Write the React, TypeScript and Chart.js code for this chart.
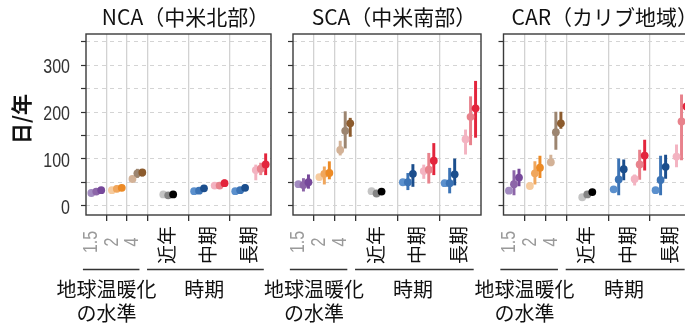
import React, { useEffect, useRef } from 'react';
import { Chart, registerables } from 'chart.js';

Chart.register(...registerables);

// ---------------- data ----------------
const REGION_TITLES = ['NCA（中米北部）', 'SCA（中米南部）', 'CAR（カリブ地域）'];
const WARMING_LABELS = ['1.5', '2', '4'];
const PERIOD_LABELS = ['近年', '中期', '長期'];
const WARMING_GROUP_TITLE = ['地球温暖化', 'の水準'];
const PERIOD_GROUP_TITLE = '時期';
const Y_TITLE = '日/年';
const Y_TICK_VALUES = [0, 50, 100, 150, 200, 250, 300, 350];
const Y_TICK_LABELS = ['0', '', '100', '', '200', '', '300', ''];

// order: GWL1.5 (L,M,D), GWL2, GWL4, 近年, 中期 blue, 中期 red, 長期 blue, 長期 red
const SERIES_COLORS = [
  '#a28bc0', '#8c65a8', '#76489a',
  '#f6cb9e', '#f0a65c', '#ec8a25',
  '#d3b297', '#9c8570', '#8c5b2d',
  '#c4c4c4', '#858585', '#000000',
  '#5b90cd', '#3b73b5', '#1b4e8d',
  '#f3b3c1', '#e8828c', '#e3253c',
  '#5b90cd', '#3b73b5', '#1b4e8d',
  '#f3b3c1', '#e8828c', '#e3253c',
];

const NCA_MEAN = [27, 30, 33, 33, 36, 38, 57, 69, 71, 24, 22, 24, 31, 32, 37, 43, 43, 48, 31, 33, 38, 76, 79, 88];
const NCA_LOW = [24, 24, 29, 29, 30, 33, 53, 60, 63, 21, 19, 21, 27, 28, 32, 39, 38, 41, 26, 28, 32, 55, 66, 66];
const NCA_HIGH = [30, 35, 37, 37, 42, 43, 61, 78, 77, 27, 26, 27, 35, 37, 42, 47, 48, 55, 35, 38, 44, 87, 91, 111];

const SCA_MEAN = [46, 44, 50, 61, 68, 70, 119, 160, 176, 31, 26, 30, 50, 50, 68, 74, 77, 96, 48, 48, 67, 142, 190, 208];
const SCA_LOW = [42, 31, 37, 57, 46, 57, 108, 123, 148, 29, 23, 27, 46, 34, 41, 58, 48, 66, 44, 27, 44, 110, 130, 146];
const SCA_HIGH = [50, 58, 66, 65, 83, 94, 138, 201, 187, 33, 29, 33, 54, 69, 88, 87, 112, 133, 52, 80, 100, 162, 233, 266];

const CAR_MEAN = [32, 46, 60, 42, 69, 81, 93, 157, 176, 18, 24, 29, 35, 56, 78, 57, 88, 107, 33, 55, 83, 105, 180, 212];
const CAR_LOW = [28, 23, 42, 38, 46, 60, 85, 120, 165, 15, 21, 26, 31, 23, 55, 44, 56, 76, 29, 23, 58, 83, 98, 165];
const CAR_HIGH = [36, 75, 78, 46, 94, 106, 108, 200, 200, 21, 27, 32, 39, 100, 98, 66, 119, 140, 37, 106, 108, 130, 237, 262];

const REGION_MEANS = [NCA_MEAN, SCA_MEAN, CAR_MEAN];
const REGION_LOWS = [NCA_LOW, SCA_LOW, CAR_LOW];
const REGION_HIGHS = [NCA_HIGH, SCA_HIGH, CAR_HIGH];

// ---------------- layout (x in category units) ----------------
const GROUP_CENTERS = [0.5, 1.5, 2.5, 4, 6, 8];
const GROUP_BOUNDS = [1, 2, 3, 5, 7];
const CLUSTER_CENTERS = [0.5, 1.5, 2.5, 4, 5.5, 6.5, 7.5, 8.5];
const MEMBER_OFFSETS = [-0.24, 0, 0.24];

const PANELS = [
  { left: 0, width: 282, axisW: 86, padR: 11, yLabels: true },
  { left: 250, width: 250, axisW: 43, padR: 19, yLabels: false },
  { left: 460, width: 240, axisW: 43.5, padR: 8, yLabels: false },
];

const SANS = '"Liberation Sans", Arial, sans-serif';
const CJK = '"Noto Sans CJK JP", "Noto Sans", sans-serif';

function xOf(i: number) {
  return CLUSTER_CENTERS[Math.floor(i / 3)] + MEMBER_OFFSETS[i % 3];
}

function makeDecor(region: number, showY: boolean) {
  return {
    id: 'decor' + region,
    afterDraw(chart: any) {
      const { ctx, chartArea: a } = chart;
      const xs = chart.scales.x;
      const ys = chart.scales.y;
      ctx.save();
      // frame
      ctx.strokeStyle = '#3a3a3a';
      ctx.lineWidth = 1.4;
      ctx.strokeRect(a.left, a.top, a.right - a.left, a.bottom - a.top);

      // title
      ctx.fillStyle = '#111111';
      ctx.font = '21px ' + CJK;
      ctx.textAlign = 'center';
      ctx.textBaseline = 'middle';
      ctx.fillText(REGION_TITLES[region], (a.left + a.right) / 2 + 7, 17);

      if (showY) {
        // y title
        ctx.save();
        ctx.translate(21, 119);
        ctx.rotate(-Math.PI / 2);
        ctx.font = 'bold 21px ' + CJK;
        ctx.fillStyle = '#111111';
        ctx.fillText(Y_TITLE, 0, 0);
        ctx.restore();
        // y tick labels (condensed)
        Y_TICK_VALUES.forEach((v, k) => {
          const lab = Y_TICK_LABELS[k];
          if (!lab) return;
          ctx.save();
          ctx.translate(a.left - 16, ys.getPixelForValue(v) + 2.5);
          ctx.scale(0.8, 1);
          ctx.font = '20px ' + SANS;
          ctx.fillStyle = '#333333';
          ctx.textAlign = 'right';
          ctx.textBaseline = 'middle';
          ctx.fillText(lab, 0, 0);
          ctx.restore();
        });
      }

      // rotated x labels
      WARMING_LABELS.forEach((lab, k) => {
        const px = xs.getPixelForValue(GROUP_CENTERS[k] - 0.22);
        ctx.save();
        ctx.translate(px, 242);
        ctx.rotate(-Math.PI / 2);
        ctx.scale(0.8, 1);
        ctx.font = '20px ' + SANS;
        ctx.fillStyle = '#9a9a9a';
        ctx.textAlign = 'center';
        ctx.textBaseline = 'middle';
        ctx.fillText(lab, 0, 0);
        ctx.restore();
      });
      PERIOD_LABELS.forEach((lab, k) => {
        const px = xs.getPixelForValue(GROUP_CENTERS[k + 3] - 0.06);
        ctx.save();
        ctx.translate(px, 245);
        ctx.rotate(-Math.PI / 2);
        ctx.font = '19px ' + CJK;
        ctx.fillStyle = '#111111';
        ctx.textAlign = 'center';
        ctx.textBaseline = 'middle';
        ctx.fillText(lab, 0, 0);
        ctx.restore();
      });

      // group underlines
      ctx.strokeStyle = '#333333';
      ctx.lineWidth = 1.5;
      ctx.beginPath();
      ctx.moveTo(xs.getPixelForValue(-0.15), 269.5);
      ctx.lineTo(xs.getPixelForValue(2.6), 269.5);
      ctx.moveTo(xs.getPixelForValue(2.97), 269.5);
      ctx.lineTo(xs.getPixelForValue(8.65), 269.5);
      ctx.stroke();

      // group titles
      ctx.font = '20px ' + CJK;
      ctx.fillStyle = '#111111';
      ctx.textAlign = 'center';
      ctx.textBaseline = 'middle';
      const wx = xs.getPixelForValue(1.0);
      ctx.fillText(WARMING_GROUP_TITLE[0], wx, 289);
      ctx.fillText(WARMING_GROUP_TITLE[1], wx, 313);
      ctx.fillText(PERIOD_GROUP_TITLE, xs.getPixelForValue(5.75), 289);
      ctx.restore();
    },
  };
}

function Panel({ region }: { region: number }) {
  const ref = useRef<HTMLCanvasElement | null>(null);
  const p = PANELS[region];
  useEffect(() => {
    if (!ref.current) return;
    const means = REGION_MEANS[region];
    const lows = REGION_LOWS[region];
    const highs = REGION_HIGHS[region];
    const chart = new Chart(ref.current, {
      type: 'scatter',
      data: {
        datasets: [
          {
            type: 'bar',
            label: 'range',
            data: means.map((_, i) => ({ x: xOf(i), y: [lows[i], highs[i]] })) as any,
            backgroundColor: SERIES_COLORS,
            borderWidth: 0,
            barThickness: 2.3,
            order: 2,
          } as any,
          {
            type: 'scatter',
            label: 'mean',
            data: means.map((v, i) => ({ x: xOf(i), y: v })),
            pointBackgroundColor: SERIES_COLORS,
            pointBorderWidth: 0,
            pointRadius: 3.9,
            pointHoverRadius: 3.9,
            order: 1,
          } as any,
        ],
      },
      options: {
        animation: false,
        responsive: false,
        devicePixelRatio: 1,
        events: [],
        layout: { padding: { top: 34, right: p.padR, bottom: 0, left: 0 } },
        plugins: { legend: { display: false }, tooltip: { enabled: false }, title: { display: false } },
        scales: {
          x: {
            type: 'linear',
            min: 0,
            max: 9,
            offset: false,
            grid: {
              offset: false,
              color: '#d2d2d2',
              lineWidth: 1.3,
              tickColor: '#333333',
              tickLength: 6,
              tickWidth: 1.3,
            },
            border: { display: false },
            ticks: { display: true, autoSkip: false, maxRotation: 0, callback: () => '' },
            afterBuildTicks: (s: any) => {
              s.ticks = GROUP_BOUNDS.map((v) => ({ value: v }));
            },
            afterFit: (s: any) => {
              s.height = 114;
            },
          },
          y: {
            type: 'linear',
            min: -20,
            max: 367,
            grid: {
              color: '#d4d4d4',
              lineWidth: 1,
              tickColor: '#333333',
              tickLength: 5,
              tickWidth: 1.2,
            },
            border: { display: false, dash: [4, 4] },
            ticks: { autoSkip: false, callback: () => '' },
            afterBuildTicks: (s: any) => {
              s.ticks = Y_TICK_VALUES.map((v) => ({ value: v }));
            },
            afterFit: (s: any) => {
              s.width = p.axisW;
            },
          },
        },
      },
      plugins: [makeDecor(region, p.yLabels)],
    });
    return () => chart.destroy();
  }, [region]);
  return (
    <canvas
      ref={ref}
      width={p.width}
      height={329}
      style={{ position: 'absolute', left: p.left, top: 0, width: p.width, height: 329 }}
    />
  );
}

export default function App() {
  return (
    <div
      style={{
        position: 'fixed',
        left: 0,
        top: 0,
        width: 685,
        height: 329,
        overflow: 'hidden',
        background: '#ffffff',
      }}
    >
      {REGION_TITLES.map((_, r) => (
        <Panel key={r} region={r} />
      ))}
    </div>
  );
}
